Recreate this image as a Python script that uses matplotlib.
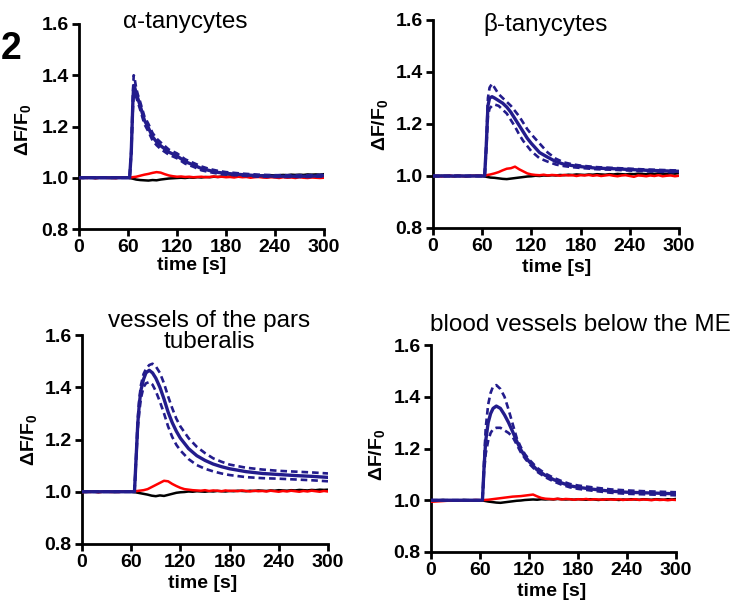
import matplotlib
matplotlib.use("Agg")
import matplotlib.pyplot as plt

plt.rcParams['font.family'] = ['Liberation Sans', 'DejaVu Sans']
plt.rcParams['mathtext.fontset'] = 'custom'
plt.rcParams['mathtext.rm'] = 'Liberation Sans'
plt.rcParams['mathtext.bf'] = 'Liberation Sans:bold'
plt.rcParams['mathtext.it'] = 'Liberation Sans:italic'

# ---------------- data ----------------
titles = ["α-tanycytes", "β-tanycytes", "vessels of the pars\ntuberalis", "blood vessels below the ME"]
x_ticks = [0, 60, 120, 180, 240, 300]
y_ticks = [0.8, 1.0, 1.2, 1.4, 1.6]
x_label = "time [s]"
y_label = r"$\mathbf{\Delta F/F_0}$"

# time grid for red / black traces (s)
t_rb = list(range(0, 301, 5))

# --- alpha tanycytes ---
t_a = [0, 20, 40, 60, 62, 64, 66, 67, 68, 70, 72, 75, 80, 85, 90, 95, 100, 110, 120, 130,
       140, 150, 160, 170, 180, 200, 220, 240, 260, 280, 300]
mean_a = [1.0, 1.0, 1.0, 1.0, 1.0, 1.10, 1.30, 1.36, 1.355, 1.33, 1.31, 1.28, 1.225, 1.195, 1.16,
          1.14, 1.125, 1.10, 1.085, 1.063, 1.05, 1.036, 1.028, 1.021, 1.017, 1.012, 1.008, 1.006,
          1.006, 1.006, 1.008]
upper_a = [1.0, 1.0, 1.0, 1.0, 1.0, 1.11, 1.33, 1.40, 1.39, 1.35, 1.325, 1.295, 1.24, 1.21, 1.175,
           1.153, 1.138, 1.11, 1.095, 1.072, 1.058, 1.044, 1.034, 1.027, 1.022, 1.016, 1.012, 1.01,
           1.01, 1.01, 1.012]
lower_a = [1.0, 1.0, 1.0, 1.0, 1.0, 1.09, 1.27, 1.32, 1.33, 1.315, 1.295, 1.265, 1.21, 1.18, 1.146,
           1.127, 1.112, 1.09, 1.076, 1.055, 1.043, 1.029, 1.022, 1.016, 1.012, 1.008, 1.004, 1.003,
           1.003, 1.003, 1.005]
red_a = [0.998, 1.001, 0.999, 1.002, 0.998, 1.000, 1.001, 0.999, 1.000, 0.998, 1.001, 1.000, 1.000,
         1.002, 1.004, 1.008, 1.012, 1.015, 1.019, 1.022, 1.020,
         1.014, 1.009, 1.006, 1.004, 1.005, 1.003, 1.004, 1.002,
         1.003, 1.004, 1.002, 1.003, 1.005, 1.003, 1.004, 1.002,
         1.003, 1.001, 1.004, 1.002, 1.003, 1.000, 1.002, 1.003,
         1.001, 1.000, 1.002, 1.001, 0.999, 1.002, 1.000, 1.001,
         0.999, 1.002, 1.000, 0.999, 1.001, 1.000, 0.999, 1.000]
black_a = [1.000, 0.999, 1.001, 1.000, 0.999, 1.000, 1.001, 1.000, 0.999, 1.000, 1.001, 1.000, 1.000,
           0.997, 0.993, 0.991, 0.990, 0.989, 0.991, 0.990, 0.993,
           0.995, 0.997, 0.998, 0.999, 1.000, 0.999, 1.001, 1.000,
           1.002, 1.001, 1.003, 1.002, 1.004, 1.003, 1.005, 1.004,
           1.005, 1.006, 1.005, 1.007, 1.006, 1.008, 1.007, 1.008,
           1.009, 1.008, 1.010, 1.009, 1.010, 1.011, 1.010, 1.012,
           1.011, 1.012, 1.011, 1.013, 1.012, 1.013, 1.012, 1.014]

# --- beta tanycytes ---
t_b = [0, 20, 40, 60, 63, 65, 67, 69, 72, 75, 80, 85, 90, 95, 100, 105, 110, 115, 120, 130, 140,
       150, 160, 170, 180, 200, 220, 240, 260, 280, 300]
mean_b = [1.0, 1.0, 1.0, 1.0, 1.0, 1.12, 1.27, 1.30, 1.305, 1.30, 1.29, 1.28, 1.265, 1.245, 1.22,
          1.195, 1.17, 1.145, 1.125, 1.09, 1.072, 1.055, 1.045, 1.04, 1.036, 1.03, 1.028, 1.025,
          1.022, 1.02, 1.018]
upper_b = [1.0, 1.0, 1.0, 1.0, 1.0, 1.13, 1.30, 1.34, 1.355, 1.34, 1.315, 1.30, 1.285, 1.27, 1.25,
           1.23, 1.205, 1.18, 1.16, 1.125, 1.09, 1.066, 1.052, 1.045, 1.04, 1.034, 1.031, 1.028,
           1.025, 1.023, 1.021]
lower_b = [1.0, 1.0, 1.0, 1.0, 1.0, 1.10, 1.23, 1.26, 1.27, 1.275, 1.27, 1.255, 1.24, 1.215, 1.19,
           1.16, 1.135, 1.115, 1.095, 1.068, 1.055, 1.044, 1.038, 1.034, 1.031, 1.026, 1.024, 1.021,
           1.018, 1.016, 1.014]
red_b = [0.999, 1.001, 0.998, 1.000, 1.002, 0.999, 1.001, 1.000, 0.999, 1.001, 1.000, 1.002, 1.000,
         1.003, 1.006, 1.010, 1.015, 1.022, 1.028, 1.030, 1.036,
         1.026, 1.018, 1.010, 1.006, 1.004, 1.003, 1.005, 1.002,
         1.004, 1.003, 1.001, 1.004, 1.002, 1.003, 1.000, 1.003,
         1.002, 1.004, 1.001, 1.003, 1.000, 1.002, 1.004, 1.001,
         0.999, 1.002, 1.003, 1.000, 0.997, 1.002, 1.001, 0.999,
         1.002, 1.000, 1.003, 0.999, 1.001, 1.002, 0.999, 1.001]
black_b = [1.000, 0.999, 1.001, 1.000, 1.000, 0.999, 1.001, 1.000, 0.999, 1.000, 1.001, 1.000, 1.000,
           0.997, 0.994, 0.993, 0.991, 0.989, 0.988, 0.990, 0.992,
           0.994, 0.996, 0.998, 0.999, 1.001, 1.000, 1.002, 1.001,
           1.003, 1.002, 1.004, 1.003, 1.005, 1.004, 1.006, 1.005,
           1.004, 1.006, 1.005, 1.007, 1.006, 1.005, 1.007, 1.006,
           1.008, 1.007, 1.006, 1.008, 1.007, 1.009, 1.008, 1.007,
           1.009, 1.008, 1.010, 1.009, 1.008, 1.010, 1.009, 1.011]

# --- vessels of the pars tuberalis ---
t_p = [0, 20, 40, 60, 64, 66, 68, 70, 72, 75, 78, 82, 86, 90, 95, 100, 105, 110, 115, 120, 130,
       140, 150, 160, 170, 180, 200, 220, 240, 260, 280, 300]
mean_p = [1.0, 1.0, 1.0, 1.0, 1.0, 1.13, 1.26, 1.34, 1.39, 1.43, 1.455, 1.465, 1.455, 1.435, 1.40,
          1.355, 1.305, 1.265, 1.232, 1.205, 1.165, 1.138, 1.12, 1.106, 1.096, 1.088, 1.077, 1.07,
          1.066, 1.062, 1.059, 1.055]
upper_p = [1.0, 1.0, 1.0, 1.0, 1.0, 1.14, 1.28, 1.36, 1.41, 1.45, 1.47, 1.485, 1.49, 1.48, 1.455,
           1.415, 1.365, 1.32, 1.28, 1.25, 1.205, 1.172, 1.148, 1.128, 1.115, 1.104, 1.092, 1.085,
           1.08, 1.077, 1.074, 1.07]
lower_p = [1.0, 1.0, 1.0, 1.0, 1.0, 1.12, 1.24, 1.31, 1.36, 1.40, 1.415, 1.42, 1.41, 1.385, 1.345,
           1.30, 1.25, 1.21, 1.18, 1.158, 1.125, 1.102, 1.088, 1.078, 1.07, 1.064, 1.056, 1.052,
           1.05, 1.047, 1.044, 1.04]
red_p = [0.998, 1.000, 0.999, 1.001, 0.998, 1.000, 1.001, 0.999, 1.000, 0.999, 1.001, 1.000, 1.000,
         1.002, 1.004, 1.006, 1.010, 1.018, 1.026, 1.034, 1.042,
         1.040, 1.030, 1.022, 1.015, 1.010, 1.008, 1.006, 1.005,
         1.004, 1.006, 1.003, 1.005, 1.004, 1.002, 1.005, 1.003,
         1.004, 1.002, 1.005, 1.003, 1.001, 1.004, 1.002, 1.003,
         1.001, 1.004, 1.002, 1.000, 1.003, 1.001, 1.004, 1.002,
         1.000, 1.003, 1.001, 1.004, 1.002, 1.000, 1.003, 1.001]
black_p = [1.000, 0.999, 1.001, 1.000, 0.999, 1.000, 1.001, 1.000, 0.999, 1.000, 1.000, 1.001, 1.000,
           0.998, 0.995, 0.992, 0.989, 0.985, 0.983, 0.986, 0.984,
           0.988, 0.992, 0.996, 0.998, 0.999, 1.001, 1.000, 1.002,
           1.001, 1.000, 1.002, 1.001, 1.003, 1.002, 1.001, 1.003,
           1.002, 1.004, 1.003, 1.002, 1.004, 1.003, 1.005, 1.004,
           1.003, 1.005, 1.004, 1.006, 1.005, 1.004, 1.006, 1.005,
           1.007, 1.006, 1.005, 1.007, 1.006, 1.008, 1.007, 1.008]

# --- blood vessels below the ME ---
t_m = [0, 20, 40, 60, 63, 65, 67, 70, 73, 76, 80, 85, 90, 95, 100, 105, 110, 115, 120, 130, 140,
       150, 160, 170, 180, 200, 220, 240, 260, 280, 300]
mean_m = [1.0, 1.0, 1.0, 1.0, 1.0, 1.13, 1.23, 1.30, 1.335, 1.355, 1.364, 1.355, 1.33, 1.30, 1.265,
          1.228, 1.195, 1.17, 1.15, 1.117, 1.096, 1.08, 1.067, 1.056, 1.05, 1.042, 1.035, 1.031,
          1.029, 1.027, 1.025]
upper_m = [1.0, 1.0, 1.0, 1.0, 1.0, 1.15, 1.28, 1.37, 1.415, 1.44, 1.445, 1.43, 1.40, 1.35, 1.295,
           1.24, 1.205, 1.178, 1.158, 1.125, 1.103, 1.087, 1.074, 1.063, 1.057, 1.049, 1.042, 1.038,
           1.035, 1.033, 1.031]
lower_m = [1.0, 1.0, 1.0, 1.0, 1.0, 1.11, 1.18, 1.23, 1.26, 1.275, 1.28, 1.28, 1.27, 1.26, 1.245,
           1.215, 1.185, 1.162, 1.142, 1.11, 1.089, 1.073, 1.06, 1.05, 1.044, 1.036, 1.029, 1.025,
           1.023, 1.021, 1.019]
red_m = [0.994, 0.995, 0.996, 0.997, 0.998, 0.998, 0.999, 0.999, 1.000, 0.999, 1.000, 1.001, 1.000,
         1.001, 1.002, 1.004, 1.006, 1.008, 1.010, 1.012, 1.014,
         1.015, 1.016, 1.018, 1.020, 1.022, 1.015, 1.009, 1.006,
         1.005, 1.004, 1.006, 1.003, 1.005, 1.004, 1.002, 1.004,
         1.003, 1.005, 1.002, 1.004, 1.003, 1.002, 1.004, 1.003,
         1.002, 1.004, 1.001, 1.003, 1.002, 1.004, 1.001, 1.003,
         1.002, 1.000, 1.003, 1.001, 1.002, 1.000, 1.002, 1.001]
black_m = [1.000, 0.999, 1.000, 1.001, 0.999, 1.000, 1.000, 0.999, 1.001, 1.000, 0.999, 1.000, 1.000,
           0.998, 0.995, 0.993, 0.991, 0.990, 0.992, 0.994, 0.996,
           0.998, 0.999, 1.001, 1.002, 1.003, 1.002, 1.004, 1.003,
           1.004, 1.003, 1.005, 1.004, 1.003, 1.004, 1.002, 1.004,
           1.003, 1.002, 1.004, 1.003, 1.001, 1.003, 1.002, 1.004,
           1.003, 1.001, 1.003, 1.002, 1.004, 1.003, 1.002, 1.004,
           1.003, 1.002, 1.004, 1.003, 1.002, 1.004, 1.003, 1.005]

panels = [
    (t_a, mean_a, upper_a, lower_a, red_a, black_a),
    (t_b, mean_b, upper_b, lower_b, red_b, black_b),
    (t_p, mean_p, upper_p, lower_p, red_p, black_p),
    (t_m, mean_m, upper_m, lower_m, red_m, black_m),
]

# ---------------- layout (pixels) ----------------
W, H = 739, 607
boxes = [(79, 24, 324, 229), (433, 20, 679, 228), (82, 335, 328, 544), (431, 345, 676, 552)]
title_pos = [(185, 22), (546, 24), (209, 353), (580, 325)]
ylab_pos = [(23, 130), (380, 125), (29, 440), (377, 455)]
xlab_pos = [(192, 266), (557, 268), (203, 583), (552, 592)]

NAVY = '#231C8C'

fig = plt.figure(figsize=(W / 100, H / 100), dpi=100)

for i, (t, m, up, lo, rd, bk) in enumerate(panels):
    x0, y0, x1, y1 = boxes[i]
    ax = fig.add_axes([x0 / W, 1 - y1 / H, (x1 - x0) / W, (y1 - y0) / H])
    ax.plot(t_rb, bk, color='black', lw=1.8, zorder=2)
    ax.plot(t_rb, rd, color='red', lw=1.8, zorder=3)
    ax.plot(t, up, color=NAVY, lw=1.9, ls=(0, (2.5, 1.5)), zorder=4)
    ax.plot(t, lo, color=NAVY, lw=1.9, ls=(0, (2.5, 1.5)), zorder=4)
    ax.plot(t, m, color=NAVY, lw=2.4, zorder=5)
    ax.set_xlim(0, 300)
    ax.set_ylim(0.8, 1.6)
    ax.set_xticks(x_ticks)
    ax.set_yticks(y_ticks)
    ax.set_yticklabels([f"{v:.1f}" for v in y_ticks])
    for s in ['top', 'right']:
        ax.spines[s].set_visible(False)
    for s in ['left', 'bottom']:
        ax.spines[s].set_linewidth(2.0)
    ax.tick_params(axis='both', direction='out', length=5, width=2.0, pad=2.5,
                   labelsize=14)
    for lab in ax.get_xticklabels() + ax.get_yticklabels():
        lab.set_fontweight('bold')
    ax.patch.set_alpha(0)

    # axis labels
    xl, yl = xlab_pos[i]
    ax.set_xlabel(x_label, fontsize=14, fontweight='bold', va='center')
    ax.xaxis.set_label_coords((xl - x0) / (x1 - x0), (y1 - yl) / (y1 - y0))
    ylx, yly = ylab_pos[i]
    ax.set_ylabel(y_label, fontsize=14, va='center')
    ax.yaxis.set_label_coords((ylx - x0) / (x1 - x0), (y1 - yly) / (y1 - y0))

    # title
    tx, ty = title_pos[i]
    if "\n" in titles[i]:
        fig.text(tx / W, 1 - ty / H, titles[i], ha='center', va='bottom', fontsize=17.5,
                 linespacing=0.95)
    else:
        fig.text(tx / W, 1 - ty / H, titles[i], ha='center', va='center', fontsize=17.5)

fig.text(0.5 / W, 1 - 49 / H, "2", ha='left', va='center', fontsize=27, fontweight='bold')

fig.savefig("out.png", dpi=100)
